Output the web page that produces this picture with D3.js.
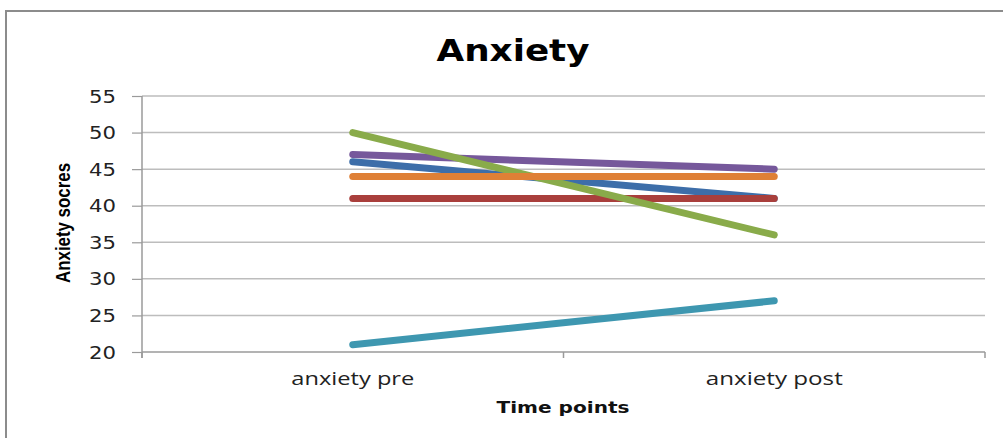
<!DOCTYPE html>
<html>
<head>
<meta charset="utf-8">
<script src="https://cdn.jsdelivr.net/npm/d3@7/dist/d3.min.js"></script>
<style>
  html, body { margin: 0; padding: 0; background: #fff; }
  svg { display: block; }
</style>
</head>
<body>
<svg id="chart" width="1003" height="438"></svg>
<script>
// Time points on the x axis
const categories = ["anxiety pre", "anxiety post"];

// Anxiety scores per participant (pre, post)
const seriesBlue   = [46, 41];
const seriesRed    = [41, 41];
const seriesPurple = [47, 45];
const seriesGreen  = [50, 36];
const seriesOrange = [44, 44];
const seriesTeal   = [21, 27];

// Y axis tick labels
const yTicks = [20, 25, 30, 35, 40, 45, 50, 55];

const series = [
  { values: seriesBlue,   color: "#3d6ea9" },
  { values: seriesRed,    color: "#a93f3c" },
  { values: seriesPurple, color: "#76589b" },
  { values: seriesGreen,  color: "#89ab4a" },
  { values: seriesOrange, color: "#df8036" },
  { values: seriesTeal,   color: "#3e97b0" }
];

const svg = d3.select("#chart");

// outer chart frame
svg.append("path")
  .attr("d", "M6,440 L6,11 L1003,11")
  .attr("fill", "none")
  .attr("stroke", "#8c8c8c")
  .attr("stroke-width", 2);

const plot = { left: 142, right: 985, top: 96, bottom: 352 };

const y = d3.scaleLinear().domain([20, 55]).range([plot.bottom, plot.top]);
const x = d3.scaleBand().domain(categories).range([plot.left, plot.right]).padding(0);
const cx = c => x(c) + x.bandwidth() / 2;

// horizontal gridlines
svg.append("g")
  .selectAll("line")
  .data(yTicks.filter(t => t !== 20))
  .join("line")
  .attr("x1", plot.left).attr("x2", plot.right)
  .attr("y1", d => y(d)).attr("y2", d => y(d))
  .attr("stroke", "#bdbdbd")
  .attr("stroke-width", 1.5);

// y axis
const yAxis = svg.append("g")
  .attr("transform", `translate(${plot.left},0)`)
  .call(d3.axisLeft(y).tickValues(yTicks).tickSize(10).tickPadding(16).tickSizeOuter(0));
yAxis.select(".domain").remove();
yAxis.selectAll(".tick line").attr("stroke", "#9a9a9a").attr("stroke-width", 1.2);
yAxis.selectAll(".tick text")
  .attr("fill", "#222")
  .style("font-family", "'DejaVu Sans', sans-serif")
  .style("font-size", "17px")
  .attr("dy", "0.36em")
  .attr("textLength", 27)
  .attr("lengthAdjust", "spacingAndGlyphs");
svg.append("line")
  .attr("x1", plot.left).attr("x2", plot.left)
  .attr("y1", plot.top).attr("y2", plot.bottom + 6)
  .attr("stroke", "#9a9a9a").attr("stroke-width", 1.5);

// x axis: baseline, boundary ticks between categories, centred labels
svg.append("line")
  .attr("x1", plot.left).attr("x2", plot.right)
  .attr("y1", plot.bottom).attr("y2", plot.bottom)
  .attr("stroke", "#9a9a9a").attr("stroke-width", 1.5);
const boundaries = categories.map(c => x(c)).concat([x.range()[1]]);
svg.append("g")
  .selectAll("line")
  .data(boundaries)
  .join("line")
  .attr("x1", d => d).attr("x2", d => d)
  .attr("y1", plot.bottom).attr("y2", plot.bottom + 6)
  .attr("stroke", "#9a9a9a").attr("stroke-width", 1.5);

const xAxis = svg.append("g")
  .attr("transform", `translate(0,${plot.bottom})`)
  .call(d3.axisBottom(x).tickSize(0).tickPadding(0).tickSizeOuter(0));
xAxis.select(".domain").remove();
xAxis.selectAll(".tick line").remove();
xAxis.selectAll(".tick text")
  .attr("fill", "#222")
  .attr("y", 33)
  .attr("dy", 0)
  .style("font-family", "'Open Sans', sans-serif")
  .style("font-size", "18px")
  .attr("textLength", d => d === "anxiety pre" ? 123 : 137)
  .attr("lengthAdjust", "spacingAndGlyphs");

// series lines
const line = d3.line()
  .x((d, i) => cx(categories[i]))
  .y(d => y(d));

svg.append("g")
  .selectAll("path")
  .data(series)
  .join("path")
  .attr("d", s => line(s.values))
  .attr("fill", "none")
  .attr("stroke", s => s.color)
  .attr("stroke-width", 7)
  .attr("stroke-linecap", "round");

// title
svg.append("text")
  .attr("x", 513).attr("y", 61)
  .attr("text-anchor", "middle")
  .style("font-family", "'DejaVu Sans', sans-serif")
  .style("font-weight", "bold")
  .style("font-size", "30px")
  .attr("fill", "#000")
  .attr("textLength", 153)
  .attr("lengthAdjust", "spacingAndGlyphs")
  .text("Anxiety");

// axis titles
svg.append("text")
  .attr("transform", `translate(70,223) rotate(-90)`)
  .attr("text-anchor", "middle")
  .style("font-family", "'Liberation Sans', sans-serif")
  .style("font-weight", "bold")
  .style("font-size", "20px")
  .attr("fill", "#000")
  .attr("textLength", 120)
  .attr("lengthAdjust", "spacingAndGlyphs")
  .text("Anxiety socres");

svg.append("text")
  .attr("x", 563).attr("y", 413)
  .attr("text-anchor", "middle")
  .style("font-family", "'DejaVu Sans', sans-serif")
  .style("font-weight", "bold")
  .style("font-size", "16px")
  .attr("fill", "#111")
  .attr("textLength", 133)
  .attr("lengthAdjust", "spacingAndGlyphs")
  .text("Time points");
</script>
</body>
</html>
